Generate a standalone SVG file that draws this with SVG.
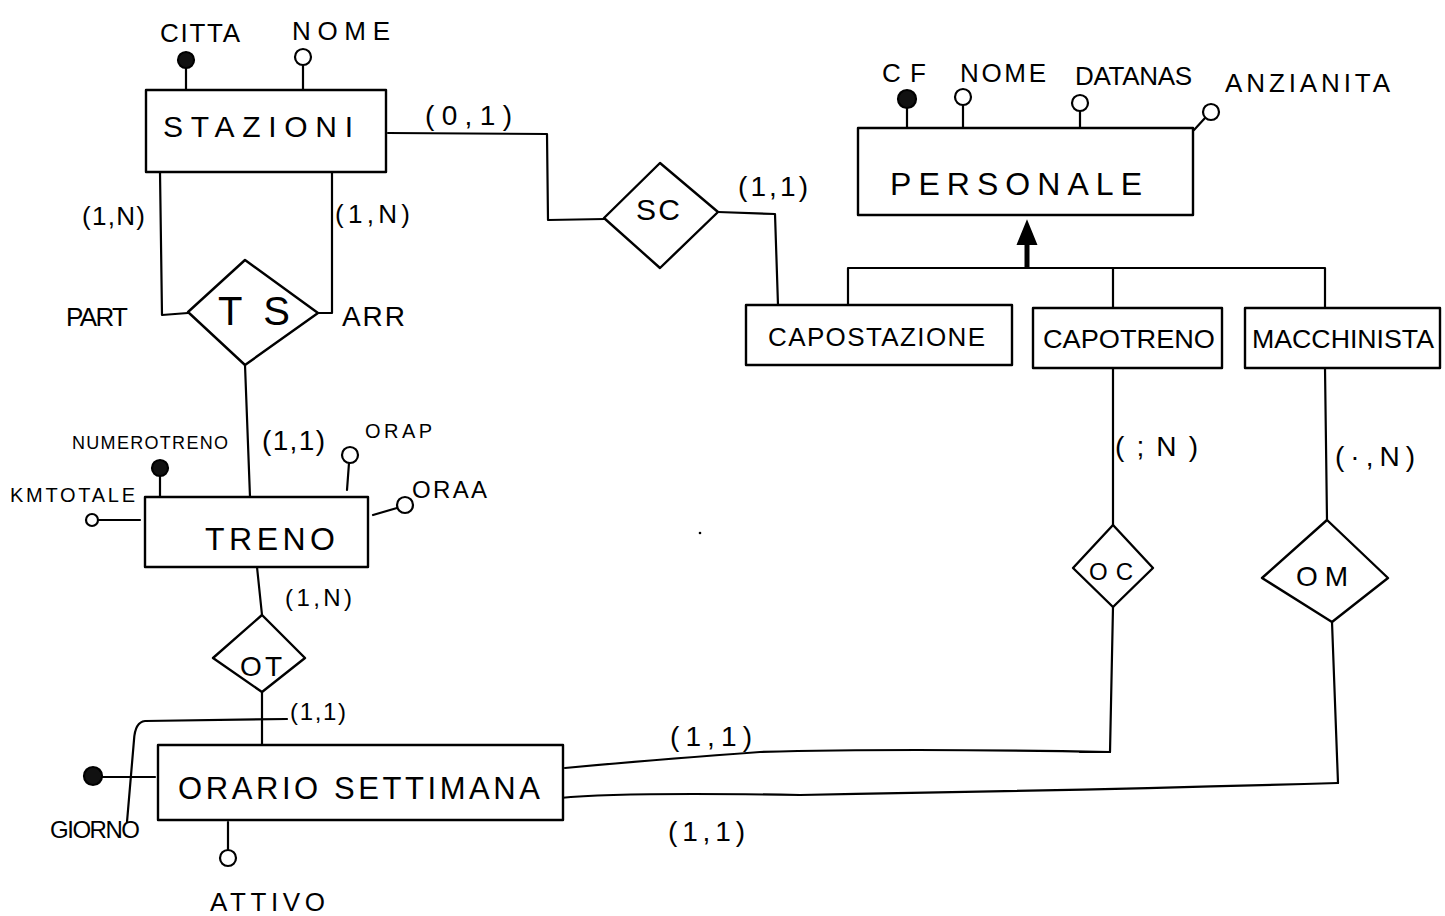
<svg xmlns="http://www.w3.org/2000/svg" width="1445" height="916" viewBox="0 0 1445 916">
<style>
.s{fill:none;stroke:#000;stroke-width:2.2;stroke-linecap:round;stroke-linejoin:round}
.b{fill:#fff;stroke:#000;stroke-width:2.4;stroke-linejoin:round}
.t{font-family:"Liberation Sans",Arial,sans-serif;fill:#000;font-weight:normal}
.ko{fill:#fff;stroke:#000;stroke-width:2.2}
.kf{fill:#111;stroke:#000;stroke-width:2.2}
</style>
<rect width="1445" height="916" fill="#fff"/>
<g id="connectors">
<path class="s" d="M388 133 L547 134 L548 220 L605 219"/>
<path class="s" d="M718 212 L775 214 L778 305"/>
<path class="s" d="M160 172 L162 315 L188 313"/>
<path class="s" d="M332 172 L332 313 L318 313"/>
<path class="s" d="M245 365 L250 497"/>
<path class="s" d="M257 567 L262 615"/>
<path class="s" d="M262 692 L262 745"/>
<path class="s" d="M1113 368 L1113 525"/>
<path class="s" d="M1113 607 L1110 752 L1080 752"/>
<path class="s" d="M1110 752 Q900 748 760 752 Q650 760 565 768"/>
<path class="s" d="M1325 368 L1327 520"/>
<path class="s" d="M1332 622 L1338 783"/>
<path class="s" d="M1338 783 Q1100 790 800 795 Q620 792 560 798"/>
<path class="s" d="M848 305 L848 268 L1325 268 L1325 308"/>
<path class="s" d="M1113 268 L1113 308"/>
<path d="M1027 268 L1027 236" fill="none" stroke="#000" stroke-width="5"/>
<path d="M1018 244 L1027 222 L1036 244 Z" fill="#000" stroke="#000" stroke-width="2"/>
<path class="s" d="M287 719 L145 721 Q135 722 134 740 L127 822"/>
</g>
<g id="stazioni">
<rect class="b" x="146" y="90" width="240" height="82"/>
<text class="t" x="163" y="137" font-size="30" textLength="190">STAZIONI</text>
</g>
<g id="attr-citta">
<line class="s" x1="186" y1="67" x2="186" y2="90"/>
<circle class="kf" cx="186" cy="60" r="8"/>
<text class="t" x="160" y="42" font-size="26" textLength="80">CITTA</text>
</g>
<g id="attr-nome-stazioni">
<line class="s" x1="303" y1="65" x2="303" y2="90"/>
<circle class="ko" cx="303" cy="57" r="8"/>
<text class="t" x="292" y="40" font-size="26" textLength="98">NOME</text>
</g>
<g id="sc">
<path class="b" d="M660 163 L718 212 L660 268 L604 218 Z"/>
<text class="t" x="636" y="220" font-size="30" textLength="44">SC</text>
</g>
<g id="personale">
<rect class="b" x="858" y="128" width="335" height="87"/>
<text class="t" x="890" y="195" font-size="32" textLength="252">PERSONALE</text>
</g>
<g id="attr-cf">
<line class="s" x1="907" y1="107" x2="907" y2="128"/>
<circle class="kf" cx="907" cy="99" r="9"/>
<text class="t" x="882" y="82" font-size="26" textLength="44">CF</text>
</g>
<g id="attr-nome-personale">
<line class="s" x1="963" y1="105" x2="963" y2="128"/>
<circle class="ko" cx="963" cy="97" r="8"/>
<text class="t" x="960" y="82" font-size="26" textLength="86">NOME</text>
</g>
<g id="attr-datanas">
<line class="s" x1="1080" y1="111" x2="1080" y2="128"/>
<circle class="ko" cx="1080" cy="103" r="8"/>
<text class="t" x="1075" y="85" font-size="26" textLength="117">DATANAS</text>
</g>
<g id="attr-anzianita">
<line class="s" x1="1194" y1="130" x2="1205" y2="118"/>
<circle class="ko" cx="1211" cy="112" r="8"/>
<text class="t" x="1225" y="92" font-size="26" textLength="165">ANZIANITA</text>
</g>
<g id="capostazione">
<rect class="b" x="746" y="305" width="266" height="60"/>
<text class="t" x="768" y="346" font-size="26" textLength="217">CAPOSTAZIONE</text>
</g>
<g id="capotreno">
<rect class="b" x="1033" y="308" width="189" height="60"/>
<text class="t" x="1043" y="348" font-size="26" textLength="172" lengthAdjust="spacingAndGlyphs">CAPOTRENO</text>
</g>
<g id="macchinista">
<rect class="b" x="1245" y="308" width="195" height="60"/>
<text class="t" x="1252" y="348" font-size="26" textLength="182" lengthAdjust="spacingAndGlyphs">MACCHINISTA</text>
</g>
<g id="ts">
<path class="b" d="M245 260 L318 313 L245 365 L188 312 Z"/>
<text class="t" x="218" y="325" font-size="40" textLength="72">TS</text>
</g>
<g id="treno">
<rect class="b" x="145" y="497" width="223" height="70"/>
<text class="t" x="205" y="550" font-size="32" textLength="130">TRENO</text>
</g>
<g id="attr-numerotreno">
<line class="s" x1="160" y1="475" x2="160" y2="497"/>
<circle class="kf" cx="160" cy="468" r="8"/>
<text class="t" x="72" y="449" font-size="18" textLength="156">NUMEROTRENO</text>
</g>
<g id="attr-kmtotale">
<line class="s" x1="99" y1="520" x2="140" y2="520"/>
<circle class="ko" cx="92" cy="520" r="6"/>
<text class="t" x="10" y="502" font-size="20" textLength="125">KMTOTALE</text>
</g>
<g id="attr-orap">
<line class="s" x1="347" y1="490" x2="349" y2="463"/>
<circle class="ko" cx="350" cy="455" r="8"/>
<text class="t" x="365" y="438" font-size="20" textLength="67">ORAP</text>
</g>
<g id="attr-oraa">
<line class="s" x1="373" y1="515" x2="397" y2="508"/>
<circle class="ko" cx="405" cy="505" r="8"/>
<text class="t" x="412" y="498" font-size="24" textLength="75">ORAA</text>
</g>
<g id="ot">
<path class="b" d="M262 615 L305 658 L262 692 L213 658 Z"/>
<text class="t" x="240" y="676" font-size="28" textLength="42">OT</text>
</g>
<g id="orario-settimana">
<rect class="b" x="158" y="745" width="405" height="75"/>
<text class="t" x="178" y="799" font-size="31" textLength="362">ORARIO SETTIMANA</text>
</g>
<g id="attr-giorno">
<line class="s" x1="101" y1="777" x2="155" y2="777"/>
<circle class="kf" cx="93" cy="776" r="9"/>
<text class="t" x="50" y="838" font-size="24" textLength="90">GIORNO</text>
</g>
<g id="attr-attivo">
<line class="s" x1="228" y1="822" x2="228" y2="850"/>
<circle class="ko" cx="228" cy="858" r="8"/>
<text class="t" x="210" y="911" font-size="26" textLength="115">ATTIVO</text>
</g>
<g id="oc">
<path class="b" d="M1113 525 L1153 568 L1113 607 L1073 568 Z"/>
<text class="t" x="1089" y="580" font-size="24" textLength="44">OC</text>
</g>
<g id="om">
<path class="b" d="M1327 520 L1388 578 L1332 622 L1262 578 Z"/>
<text class="t" x="1296" y="586" font-size="28" textLength="52">OM</text>
</g>
<g id="labels">
<text class="t" x="425" y="125" font-size="28" textLength="87">(0,1)</text>
<text class="t" x="738" y="196" font-size="28" textLength="70">(1,1)</text>
<text class="t" x="82" y="225" font-size="26" textLength="63">(1,N)</text>
<text class="t" x="335" y="223" font-size="26" textLength="75">(1,N)</text>
<text class="t" x="66" y="326" font-size="26" textLength="62">PART</text>
<text class="t" x="342" y="326" font-size="28" textLength="63">ARR</text>
<text class="t" x="262" y="450" font-size="28" textLength="63">(1,1)</text>
<text class="t" x="285" y="606" font-size="24" textLength="67">(1,N)</text>
<text class="t" x="290" y="720" font-size="24" textLength="56">(1,1)</text>
<text class="t" x="1115" y="456" font-size="28" textLength="83">(;N)</text>
<text class="t" x="1335" y="466" font-size="28" textLength="80">(·,N)</text>
<text class="t" x="670" y="746" font-size="28" textLength="82">(1,1)</text>
<text class="t" x="668" y="841" font-size="28" textLength="77">(1,1)</text>
</g>
<circle cx="700" cy="533" r="1.3" fill="#000"/>
</svg>
